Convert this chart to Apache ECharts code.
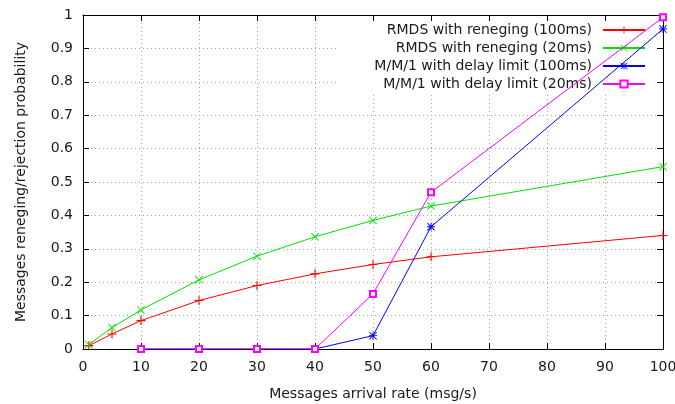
<!DOCTYPE html>
<html>
<head>
<meta charset="utf-8">
<script src="https://cdn.jsdelivr.net/npm/echarts@6/dist/echarts.min.js"></script>
<style>
html,body{margin:0;padding:0;background:#fff;}
#chart{width:675px;height:404px;}
</style>
</head>
<body>
<div id="chart"></div>
<script>
const seriesNames = ['RMDS with reneging (100ms)', 'RMDS with reneging (20ms)', 'M/M/1 with delay limit (100ms)', 'M/M/1 with delay limit (20ms)'];
const xRmds = [1, 5, 10, 20, 30, 40, 50, 60, 100];
const rmds100 = [0.010, 0.045, 0.085, 0.145, 0.190, 0.225, 0.253, 0.276, 0.340];
const rmds20 = [0.013, 0.064, 0.117, 0.207, 0.278, 0.336, 0.385, 0.428, 0.546];
const xMM1 = [10, 20, 30, 40, 50, 60, 100];
const mm1_100 = [0, 0, 0, 0, 0.040, 0.366, 0.958];
const mm1_20 = [0, 0, 0, 0, 0.165, 0.469, 0.993];
const xTicks = [0, 10, 20, 30, 40, 50, 60, 70, 80, 90, 100];
const yTicks = [0, 0.1, 0.2, 0.3, 0.4, 0.5, 0.6, 0.7, 0.8, 0.9, 1];

const FONT = 'DejaVu Sans';
const TXT = '#1a1a1a';
const pair = (xs, ys) => xs.map((x, i) => [x, ys[i]]);

const PLUS = 'path://M4.4,0H5.6V10H4.4ZM0,4.4H10V5.6H0Z';
const CROSS = 'path://M0,0.8L0.8,0L10,9.2L9.2,10ZM0.8,10L0,9.2L9.2,0L10,0.8Z';
const STAR = 'path://M4.4,0H5.6V10H4.4ZM0,4.4H10V5.6H0ZM0,0.8L0.8,0L10,9.2L9.2,10ZM0.8,10L0,9.2L9.2,0L10,0.8Z';

const baseAxisTick = { show: true, inside: true, length: 6, lineStyle: { color: '#000', width: 1 } };

const chart = echarts.init(document.getElementById('chart'), null, { renderer: 'canvas' });
chart.setOption({
  animation: false,
  backgroundColor: '#fff',
  textStyle: { fontFamily: FONT },
  grid: { left: 83, right: 12, top: 15, bottom: 55, containLabel: false, outerBoundsMode: 'none' },
  legend: {
    orient: 'vertical',
    align: 'right',
    right: 12,
    top: 15,
    z: 4,
    backgroundColor: '#ffffff',
    padding: [8, 17, 4, 36],
    itemWidth: 42,
    itemHeight: 9,
    itemGap: 4,
    selectedMode: false,
    itemStyle: { borderWidth: 1 },
    textStyle: { fontFamily: FONT, fontSize: 14, color: TXT, padding: [0, 6, 0, 0] },
    data: seriesNames
  },
  xAxis: [{
    type: 'value', min: xTicks[0], max: xTicks[xTicks.length - 1], interval: 10,
    name: 'Messages arrival rate (msg/s)', nameLocation: 'middle', nameGap: 38,
    nameTextStyle: { fontFamily: FONT, fontSize: 14, color: TXT },
    axisLine: { show: true, lineStyle: { color: '#000', width: 1 } },
    axisTick: baseAxisTick,
    axisLabel: { fontFamily: FONT, fontSize: 14, color: TXT, margin: 11 },
    splitLine: { show: true, lineStyle: { color: '#a8a8a8', width: 1, type: [1, 3] } }
  }, {
    type: 'value', position: 'top', min: xTicks[0], max: xTicks[xTicks.length - 1], interval: 10, z: 8,
    axisLine: { show: true, onZero: false, lineStyle: { color: '#000', width: 1 } },
    axisTick: baseAxisTick,
    axisLabel: { show: false },
    splitLine: { show: false }
  }],
  yAxis: [{
    type: 'value', min: yTicks[0], max: yTicks[yTicks.length - 1], interval: 0.1,
    name: 'Messages reneging/rejection probability', nameLocation: 'middle', nameGap: 55, nameRotate: 90,
    nameTextStyle: { fontFamily: FONT, fontSize: 14, color: TXT },
    axisLine: { show: true, lineStyle: { color: '#000', width: 1 } },
    axisTick: baseAxisTick,
    axisLabel: { fontFamily: FONT, fontSize: 14, color: TXT, margin: 10, formatter: v => String(Math.round(v * 10) / 10) },
    splitLine: { show: true, lineStyle: { color: '#a8a8a8', width: 1, type: [1, 3] } }
  }, {
    type: 'value', position: 'right', min: yTicks[0], max: yTicks[yTicks.length - 1], interval: 0.1, z: 8,
    axisLine: { show: true, onZero: false, lineStyle: { color: '#000', width: 1 } },
    axisTick: baseAxisTick,
    axisLabel: { show: false },
    splitLine: { show: false }
  }],
  series: [{
    name: seriesNames[0], type: 'line', data: pair(xRmds, rmds100), z: 60,
    symbol: PLUS, symbolSize: 9, showAllSymbol: true,
    lineStyle: { color: '#ff0000', width: 1 },
    itemStyle: { color: '#ff0000', borderWidth: 0 }
  }, {
    name: seriesNames[1], type: 'line', data: pair(xRmds, rmds20), z: 60,
    symbol: CROSS, symbolSize: 8, showAllSymbol: true,
    lineStyle: { color: '#00e000', width: 1 },
    itemStyle: { color: '#00e000', borderWidth: 0 }
  }, {
    name: seriesNames[2], type: 'line', data: pair(xMM1, mm1_100), z: 60,
    symbol: STAR, symbolSize: 8, showAllSymbol: true,
    lineStyle: { color: '#0000ff', width: 1 },
    itemStyle: { color: '#0000ff', borderWidth: 0 }
  }, {
    name: seriesNames[3], type: 'line', data: pair(xMM1, mm1_20), z: 60,
    symbol: 'emptyRect', symbolSize: 6, showAllSymbol: true,
    lineStyle: { color: '#ff00ff', width: 1 },
    itemStyle: { color: '#ff00ff', borderColor: '#ff00ff', borderWidth: 1 }
  }]
});
</script>
</body>
</html>
